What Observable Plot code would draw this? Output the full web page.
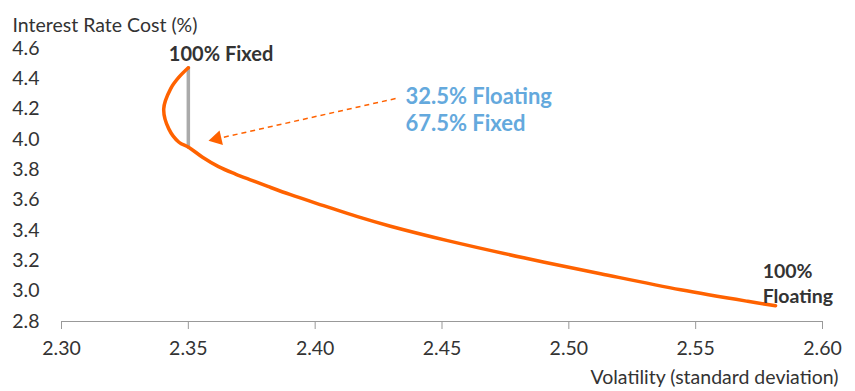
<!DOCTYPE html>
<html>
<head>
<meta charset="utf-8">
<script src="https://cdn.jsdelivr.net/npm/d3@7"></script>
<script src="https://cdn.jsdelivr.net/npm/@observablehq/plot@0.6"></script>
<style>
  html, body { margin: 0; padding: 0; background: #fff; }
  #chart svg { display: block; }
</style>
</head>
<body>
<div id="chart"></div>
<script>
// Efficient frontier: volatility (x) vs interest rate cost (y), from 100% fixed to 100% floating
const volatility = [2.3500, 2.3463, 2.3430, 2.3403, 2.3423, 2.3463, 2.3501, 2.3556, 2.3619, 2.3686, 2.3753, 2.3816, 2.3903, 2.4033, 2.4167, 2.4297, 2.4522, 2.4822, 2.5125, 2.5441, 2.5705, 2.5815];
const cost       = [4.473,  4.411,  4.334,  4.202,  4.070,  3.982,  3.949,  3.883,  3.821,  3.772,  3.729,  3.689,  3.636,  3.564,  3.491,  3.428,  3.333,  3.220,  3.115,  3.009,  2.933,  2.904];

const xTicks = [2.30, 2.35, 2.40, 2.45, 2.50, 2.55, 2.60];
const yTicks = [2.8, 3.0, 3.2, 3.4, 3.6, 3.8, 4.0, 4.2, 4.4, 4.6];

// Gray segment at 100% fixed volatility
const fixedVol = [2.35, 2.35];
const fixedCost = [3.949, 4.473];

// Annotation arrow (tail -> head)
const arrowTail = {x: 2.4317, y: 4.270};
const arrowHead = {x: 2.3613, y: 4.005};

const frontier = volatility.map((v, i) => ({vol: v, cost: cost[i]}));
const fixedSeg = fixedVol.map((v, i) => ({vol: v, cost: fixedCost[i]}));

const orange = "#ff6200";
const blue = "#64a9dd";
const ink = "#333";
const fs = 19.5;

const chart = Plot.plot({
  width: 855,
  height: 391,
  marginTop: 48,
  marginBottom: 70,
  marginLeft: 61,
  marginRight: 33,
  style: {fontFamily: "Lato, 'Open Sans', sans-serif", color: ink, background: "#fff"},
  x: {domain: [2.30, 2.60]},
  y: {domain: [2.8, 4.6]},
  marks: [
    Plot.ruleY([2.8], {stroke: "#999", strokeWidth: 1}),
    Plot.axisX({ticks: xTicks, tickFormat: d3.format(".2f"), tickSize: 8, tickPadding: 12, stroke: "#999", fill: ink, fontSize: fs, label: null}),
    Plot.axisY({ticks: yTicks, tickFormat: d3.format(".1f"), tickSize: 0, tickPadding: 22, fill: ink, fontSize: fs, label: null}),
    Plot.text(["Interest Rate Cost (%)"], {frameAnchor: "top-left", dx: -49, dy: -30, textAnchor: "start", fontSize: fs, fill: ink}),
    Plot.text(["Volatility (standard deviation)"], {frameAnchor: "bottom-right", dx: 16, dy: 62, textAnchor: "end", fontSize: fs, fill: ink}),
    Plot.line(fixedSeg, {x: "vol", y: "cost", stroke: "#aaa", strokeWidth: 3.5}),
    Plot.line(frontier, {x: "vol", y: "cost", stroke: orange, strokeWidth: 3.5, curve: "catmull-rom"}),
    Plot.link([{}], {x1: () => arrowTail.x, y1: () => arrowTail.y, x2: () => arrowHead.x, y2: () => arrowHead.y, stroke: orange, strokeWidth: 1.5, strokeDasharray: "5,4"}),
    Plot.dot([arrowHead], {x: "x", y: "y", symbol: "triangle", r: 5.6, fill: orange, stroke: "none", rotate: 257}),
    Plot.text(["100% Fixed"], {x: 2.3629, y: 4.560, fontSize: 20, fontWeight: "bold", fill: ink}),
    Plot.text(["32.5% Floating"], {x: 2.4356, y: 4.283, textAnchor: "start", fontSize: 22, fontWeight: "bold", fill: blue}),
    Plot.text(["67.5% Fixed"], {x: 2.4356, y: 4.105, textAnchor: "start", fontSize: 22, fontWeight: "bold", fill: blue}),
    Plot.text(["100%"], {x: 2.5764, y: 3.128, textAnchor: "start", fontSize: fs, fontWeight: "bold", fill: ink}),
    Plot.text(["Floating"], {x: 2.5764, y: 2.963, textAnchor: "start", fontSize: fs, fontWeight: "bold", fill: ink})
  ]
});
document.getElementById("chart").appendChild(chart);
</script>
</body>
</html>
